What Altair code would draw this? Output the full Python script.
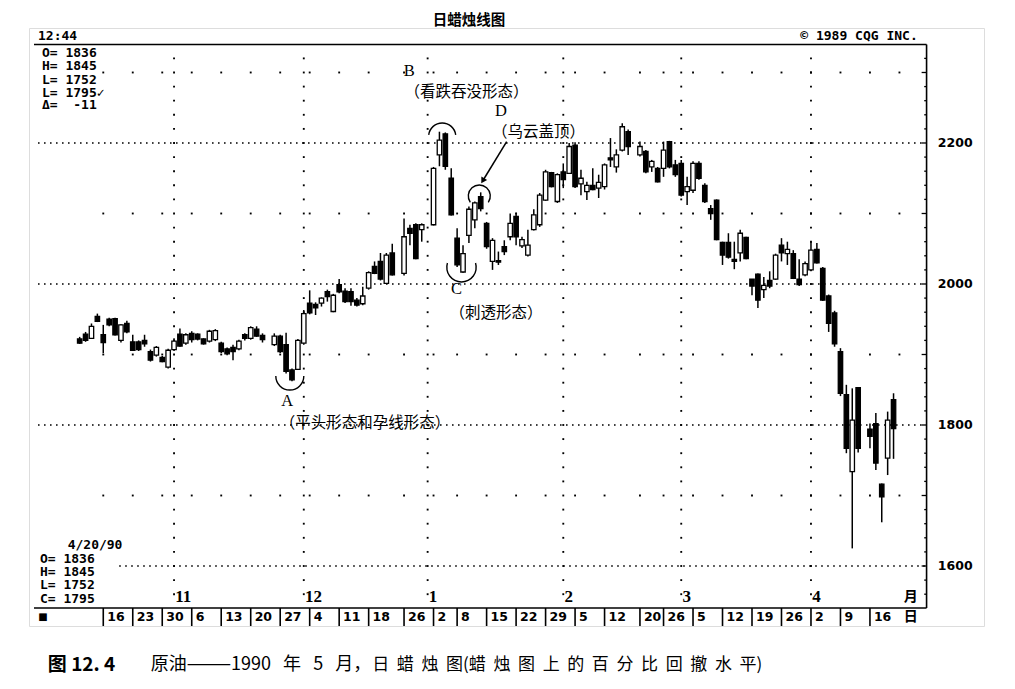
import altair as alt
import pandas as pd
import numpy as np

# ---------------- data ----------------
# x = weekday slot counted from Mon 16 Oct 1989 (holidays leave an empty slot)
day_idx = [-4, -3, -2, -1, 0, 1, 2, 3, 4, 5, 6, 7, 8, 9, 10, 11, 12, 13, 14, 15,
           16, 17, 18, 19, 20, 21, 22, 23, 24, 25, 26, 27, 29, 30, 31, 32, 33, 34, 35, 36,
           37, 38, 39, 40, 41, 42, 43, 44, 45, 46, 47, 48, 49, 51, 52, 53, 54, 56, 57, 58,
           59, 60, 61, 62, 63, 64, 65, 66, 67, 68, 69, 70, 71, 72, 73, 74, 75, 76, 77, 78,
           79, 80, 81, 82, 83, 84, 85, 86, 87, 88, 89, 91, 92, 93, 94, 95, 96, 97, 98, 99,
           100, 101, 102, 103, 104, 105, 106, 107, 108, 109, 110, 111, 112, 113, 114, 115, 116, 117, 118, 119,
           120, 121, 122, 123, 124, 125, 126, 127, 128, 130, 131, 132, 133, 134]
opens = [1922, 1929, 1923, 1954, 1928, 1950, 1951, 1920, 1944, 1918, 1918, 1920, 1904, 1899, 1896, 1882, 1907, 1929, 1916, 1930,
         1929, 1922, 1919, 1921, 1916, 1908, 1910, 1908, 1928, 1923, 1936, 1927, 1914, 1926, 1914, 1878, 1879, 1916, 1973, 1971,
         1973, 1989, 1961, 1999, 1990, 1989, 1977, 1972, 1994, 2025, 2032, 2001, 2044, 2015, 2079, 2084, 2077, 2084, 2183, 2213,
         2150, 2065, 2017, 2069, 2091, 2124, 2086, 2032, 2033, 2053, 2067, 2096, 2054, 2041, 2077, 2084, 2119, 2158, 2117, 2159,
         2157, 2197, 2142, 2131, 2140, 2136, 2138, 2179, 2166, 2190, 2216, 2183, 2188, 2166, 2164, 2164, 2202, 2169, 2171, 2131,
         2133, 2171, 2140, 2107, 2119, 2059, 2059, 2035, 2044, 2066, 2007, 2014, 1992, 2005, 2007, 2055, 2043, 2043, 2007, 2013,
         2020, 2049, 2022, 1983, 1959, 1904, 1843, 1734, 1853, 1794, 1802, 1716, 1753, 1836]
highs = [1925, 1932, 1944, 1958, 1942, 1952, 1952, 1943, 1948, 1928, 1920, 1928, 1907, 1912, 1898, 1908, 1923, 1937, 1930, 1933,
         1930, 1923, 1935, 1936, 1918, 1910, 1914, 1921, 1930, 1940, 1940, 1930, 1930, 1928, 1931, 1880, 1922, 1963, 1991, 1974,
         1981, 1992, 1986, 2007, 1994, 1994, 1980, 1996, 2018, 2032, 2044, 2044, 2057, 2093, 2084, 2086, 2086, 2166, 2216, 2215,
         2164, 2079, 2055, 2110, 2117, 2130, 2088, 2065, 2046, 2062, 2100, 2101, 2067, 2077, 2106, 2129, 2162, 2159, 2157, 2171,
         2200, 2201, 2162, 2145, 2164, 2155, 2171, 2207, 2191, 2228, 2219, 2202, 2190, 2176, 2166, 2202, 2203, 2176, 2176, 2152,
         2174, 2174, 2143, 2112, 2120, 2060, 2072, 2060, 2077, 2067, 2007, 2015, 2010, 2018, 2043, 2065, 2060, 2048, 2035, 2032,
         2060, 2058, 2024, 1985, 1962, 1909, 1857, 1852, 1854, 1802, 1817, 1717, 1819, 1845]
lows = [1915, 1918, 1922, 1946, 1902, 1940, 1927, 1917, 1930, 1905, 1905, 1911, 1890, 1897, 1889, 1880, 1905, 1911, 1914, 1917,
        1920, 1914, 1917, 1919, 1902, 1899, 1892, 1906, 1920, 1921, 1925, 1917, 1912, 1902, 1873, 1862, 1878, 1914, 1957, 1956,
        1968, 1975, 1960, 1987, 1973, 1969, 1968, 1970, 1992, 2014, 2005, 2000, 2012, 2012, 2055, 2035, 2060, 2083, 2167, 2162,
        2097, 2024, 2016, 2058, 2079, 2103, 2050, 2020, 2027, 2041, 2062, 2055, 2051, 2039, 2076, 2081, 2118, 2137, 2115, 2136,
        2156, 2136, 2126, 2119, 2133, 2122, 2134, 2166, 2158, 2188, 2183, 2181, 2157, 2159, 2144, 2152, 2164, 2152, 2124, 2112,
        2129, 2148, 2115, 2091, 2062, 2027, 2036, 2021, 2032, 2035, 1984, 1966, 1980, 1994, 2006, 2032, 2027, 2007, 1997, 2011,
        2018, 2029, 1976, 1932, 1911, 1841, 1760, 1625, 1761, 1767, 1736, 1662, 1729, 1752]
closes = [1916, 1920, 1940, 1947, 1917, 1942, 1928, 1942, 1932, 1906, 1907, 1915, 1892, 1910, 1890, 1906, 1919, 1912, 1928, 1921,
          1922, 1915, 1933, 1934, 1904, 1901, 1904, 1919, 1923, 1938, 1926, 1921, 1926, 1904, 1876, 1864, 1920, 1958, 1959, 1966,
          1980, 1982, 1984, 1989, 1975, 1975, 1970, 1983, 2016, 2015, 2007, 2041, 2013, 2067, 2072, 2036, 2084, 2164, 2204, 2167,
          2098, 2027, 2043, 2106, 2115, 2107, 2053, 2062, 2031, 2046, 2086, 2067, 2063, 2055, 2098, 2126, 2159, 2138, 2155, 2148,
          2195, 2138, 2150, 2140, 2134, 2144, 2169, 2176, 2183, 2223, 2195, 2195, 2159, 2174, 2145, 2190, 2166, 2155, 2126, 2138,
          2171, 2150, 2117, 2100, 2063, 2041, 2038, 2032, 2072, 2036, 1997, 1977, 1998, 1997, 2041, 2044, 2049, 2008, 1999, 2029,
          2048, 2030, 1977, 1944, 1915, 1845, 1767, 1807, 1767, 1784, 1746, 1698, 1807, 1795]

# date-row tick labels (first trading day of each week) and month labels
week_idx = [0, 5, 10, 15, 20, 25, 30, 35, 40, 45, 51, 56, 60, 65, 70, 75, 80, 85, 91, 95, 100, 105, 110, 115, 120, 125, 130]
week_lbl = ["16", "23", "30", "6", "13", "20", "27", "4", "11", "18", "26", "2", "8", "15", "22", "29", "5", "12",
            "20", "26", "5", "12", "19", "26", "2", "9", "16"]
month_idx = [12, 34, 55, 78, 98, 120]
month_lbl = ["11", "12", "1", "2", "3", "4"]
price_ticks = [1600, 1800, 2000, 2200]
half_ticks = [1700, 1900, 2100, 2300]

NB = "\u00a0"
info_top = ["O=" + NB + "1836", "H=" + NB + "1845", "L=" + NB + "1752", "L=" + NB + "1795\u2713",
            "\u0394=" + NB + NB + "-11"]
info_bot = ["O=" + NB + "1836", "H=" + NB + "1845", "L=" + NB + "1752", "C=" + NB + "1795"]

# ---------------- frame geometry in data units ----------------
X_L, X_R = -11.745, 148.49        # whole frame
X_PLOT_R = 139.6                  # right edge of the price panel
Y_B, Y_T = 1514.9, 2363.1         # whole frame
Y_HEAD = 2339.7                   # header strip bottom
Y_PLOT_B = 1540.4                 # date strip top

xs = alt.Scale(domain=[X_L, X_R], nice=False, zero=False)
ys = alt.Scale(domain=[Y_B, Y_T], nice=False, zero=False)


def X(f):
    return alt.X(f"{f}:Q", scale=xs, axis=None)


def Y(f):
    return alt.Y(f"{f}:Q", scale=ys, axis=None)


cdf = pd.DataFrame({"i": day_idx, "o": opens, "h": highs, "l": lows, "c": closes})

# ---------------- grid ----------------
dense = pd.DataFrame({"p": price_ticks, "x0": [2.7, -11.07, -11.07, -11.07], "x1": [X_PLOT_R] * 4})
dense_layer = alt.Chart(dense).mark_rule(color="black", strokeWidth=1.6, strokeDash=[1.6, 4.4]).encode(
    x=X("x0"), x2="x1", y=Y("p"))

sparse = pd.DataFrame([(w, p) for w in week_idx + [135] for p in half_ticks], columns=["i", "p"])
sparse_layer = alt.Chart(sparse).mark_square(color="black", size=3.5, opacity=1).encode(x=X("i"), y=Y("p"))

mlines = pd.DataFrame([(m, p) for m in month_idx for p in range(1560, 2321, 20)], columns=["i", "p"])
mline_layer = alt.Chart(mlines).mark_square(color="black", size=3.5, opacity=1).encode(x=X("i"), y=Y("p"))

# ---------------- candles ----------------
wicks = alt.Chart(cdf).mark_rule(color="black", strokeWidth=1.5).encode(x=X("i"), y=Y("l"), y2="h")
bodies = alt.Chart(cdf).mark_bar(size=4.4, stroke="black", strokeWidth=1.3).encode(
    x=X("i"), y=Y("o"), y2="c",
    fill=alt.condition("datum.c >= datum.o", alt.value("white"), alt.value("black")))

# ---------------- frame lines ----------------
frame = pd.DataFrame({
    "x0": [X_L, X_PLOT_R, X_L],
    "x1": [X_PLOT_R, X_PLOT_R, X_PLOT_R],
    "y0": [Y_HEAD, Y_HEAD, Y_PLOT_B],
    "y1": [Y_HEAD, Y_PLOT_B, Y_PLOT_B],
})
frame_layer = alt.Chart(frame).mark_rule(color="black", strokeWidth=1.6).encode(
    x=X("x0"), x2="x1", y=Y("y0"), y2="y1")

seps = pd.DataFrame({"i": week_idx, "y0": Y_PLOT_B, "y1": Y_B})
sep_layer = alt.Chart(seps).mark_rule(color="black", strokeWidth=1.6).encode(x=X("i"), y=Y("y0"), y2="y1")

major = pd.DataFrame({"p": list(range(1600, 2301, 100)), "x0": 138.76, "x1": X_PLOT_R})
minor = pd.DataFrame({"p": [p for p in range(1560, 2321, 20) if p % 100], "x0": 139.2, "x1": X_PLOT_R})
tick_layer = alt.Chart(pd.concat([major, minor])).mark_rule(color="black", strokeWidth=1.3).encode(
    x=X("x0"), x2="x1", y=Y("p"))


# ---------------- texts ----------------
def texts(rows, **kw):
    df = pd.DataFrame(rows, columns=["x", "y", "t"])
    base = dict(color="black", baseline="middle")
    base.update(kw)
    return alt.Chart(df).mark_text(**base).encode(x=X("x"), y=Y("y"), text="t:N")


title = texts([(62.0, 2367.4, "日蜡烛线图")], font="Noto Sans CJK SC", fontSize=14.5, fontWeight="bold",
              align="center", baseline="alphabetic")
mono = dict(font="DejaVu Sans Mono", fontSize=13, fontWeight="bold")
head_l = texts([(-11.07, 2351.8, "12:44")], align="left", **mono)
head_r = texts([(138.1, 2351.8, "\u00a9 1989 CQG INC.")], align="right", **mono)
info1 = texts([(-10.4, y, t) for y, t in zip([2327, 2308.5, 2290, 2271.6, 2253.2], info_top)], align="left", **mono)
info2 = texts([(-6.04, 1629.8, "4/20/90")] + [(-10.74, y, t) for y, t in zip([1609.9, 1591.5, 1573.1, 1553.2], info_bot)],
              align="left", **mono)

dates = texts([(w + 0.67, 1527.7, t) for w, t in zip(week_idx, week_lbl)],
              font="DejaVu Sans", fontSize=12.5, fontWeight="bold", align="left")
square = texts([(-10.23, 1527.7, "\u25a0")], font="DejaVu Sans", fontSize=10, align="center")
months = texts([(m + 0.2, 1555.5, t) for m, t in zip(month_idx, month_lbl)],
               font="Liberation Serif", fontSize=17, fontWeight="bold", align="left")
ymd = texts([(136.9, 1555.5, "月"), (136.9, 1527.7, "日")],
            font="Noto Sans CJK SC", fontSize=14, fontWeight="bold", align="center")
prices = texts([(144.46, p, str(p)) for p in price_ticks],
               font="DejaVu Sans", fontSize=12.5, fontWeight="bold", align="center")

letters = texts([(51.9, 2302.5, "B"), (67.45, 2246.0, "D"), (59.9, 1993.5, "C"), (31.2, 1834.5, "A")],
                font="Liberation Serif", fontSize=16.5, align="center")
notes = texts([(61.6, 2273.0, "（看跌吞没形态）"), (73.8, 2216.0, "（乌云盖顶）"),
               (66.6, 1959.0, "（刺透形态）"), (44.4, 1803.0, "（平头形态和孕线形态）")],
              font="Noto Sans CJK SC", fontSize=15.5, align="center")

G = NB + NB
G3 = NB + NB + NB
cap1 = texts([(-9.4, 1459.6, "图" + NB + "12." + NB + "4")], font="Noto Sans CJK SC", fontSize=19,
             fontWeight="bold", align="left")
cap_a = "原油———1990" + G3 + "年" + G3 + "5" + G3 + "月，"
cap_b = G.join("日蜡烛图") + "(" + G.join("蜡烛图上的百分比回撤水平") + ")"
cap2a = texts([(8.05, 1459.6, cap_a)], font="Noto Sans CJK SC", fontSize=18, align="left")
cap2b = texts([(45.6, 1459.6, cap_b)], font="Noto Sans CJK SC", fontSize=17, align="left")


# ---------------- pattern arcs and arrow ----------------
def arc(ci, cp, r, t1, t2):
    df = pd.DataFrame({"x": [ci], "y": [cp]})
    return alt.Chart(df).mark_arc(color="black", radius=r + 0.7, radius2=r - 0.7).encode(
        x=X("x"), y=Y("y"), theta=alt.value(t1), theta2=alt.value(t2))


arcA = arc(31.63, 1869.5, 14, 1.5708, 4.7124)
arcC = arc(60.74, 2023.7, 14.7, 1.274, 5.009)
arcB = arc(57.47, 2209.1, 13.6, 4.835, 7.732)
arcD = arc(63.76, 2124.8, 11, 4.1015, 8.465)

arrow_df = pd.DataFrame({"x0": [68.4], "y0": [2201.8], "x1": [64.43], "y1": [2147.5]})
arrow_line = alt.Chart(arrow_df).mark_rule(color="black", strokeWidth=1.5).encode(
    x=X("x0"), x2="x1", y=Y("y0"), y2="y1")
arrow_head = alt.Chart(arrow_df).mark_point(shape="triangle", filled=True, size=45, angle=211,
                                            color="black", opacity=1).encode(x=X("x1"), y=Y("y1"))

chart = alt.layer(
    dense_layer, sparse_layer, mline_layer,
    frame_layer, sep_layer, tick_layer,
    wicks, bodies,
    arcA, arcB, arcC, arcD, arrow_line, arrow_head,
    title, head_l, head_r, info1, info2, dates, square, months, ymd, prices,
    letters, notes, cap1, cap2a, cap2b,
).properties(
    width=955, height=598,
    autosize=alt.AutoSizeParams(type="none"),
    padding={"left": 21, "top": 20, "right": 20, "bottom": 55},
).configure_view(stroke="black", strokeWidth=2).configure(background="white")

chart.save("out.html", embed_options={"renderer": "svg", "actions": False})
